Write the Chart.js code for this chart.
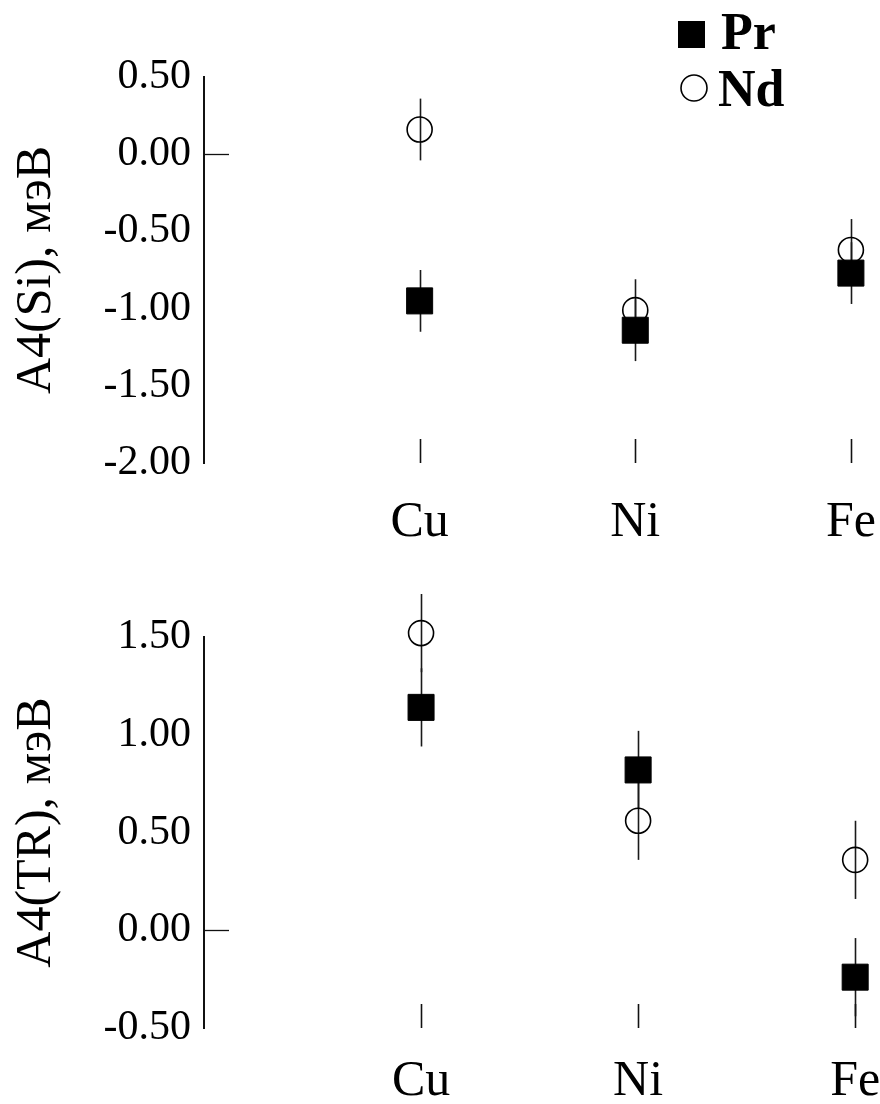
<!DOCTYPE html>
<html>
<head>
<meta charset="utf-8">
<script src="https://cdn.jsdelivr.net/npm/chart.js@4/dist/chart.umd.min.js"></script>
<style>
html,body{margin:0;padding:0;background:#fff;}
body{width:880px;height:1104px;position:relative;overflow:hidden;}
canvas{position:absolute;left:0;}
</style>
</head>
<body>
<canvas id="c1" width="880" height="560" style="top:0px"></canvas>
<canvas id="c2" width="880" height="544" style="top:560px"></canvas>
<script>
// ---- data ----
const categories = ['Cu', 'Ni', 'Fe'];
const seriesNames = ['Pr', 'Nd'];
const prSi = [-0.95, -1.14, -0.77];
const ndSi = [0.16, -1.01, -0.62];
const prSiErr = [0.2, 0.2, 0.2];
const ndSiErr = [0.2, 0.2, 0.2];
const prTR = [1.14, 0.82, -0.24];
const ndTR = [1.52, 0.56, 0.36];
const prTRErr = [0.2, 0.2, 0.2];
const ndTRErr = [0.2, 0.2, 0.2];
const siTicks = [0.5, 0, -0.5, -1, -1.5, -2];
const trTicks = [1.5, 1, 0.5, 0, -0.5];
const siTitle = 'A4(Si), мэВ';
const trTitle = 'A4(TR), мэВ';

const SERIF = "'Liberation Serif', 'DejaVu Serif', serif";

const errorBars = {
  id: 'errorBars',
  beforeDatasetsDraw(chart) {
    const ctx = chart.ctx, xs = chart.scales.x, ys = chart.scales.y;
    ctx.save();
    ctx.strokeStyle = '#1a1a1a';
    ctx.lineWidth = 1.6;
    chart.data.datasets.forEach(ds => {
      ds.data.forEach((p, j) => {
        const e = ds.errors[j];
        const x = Math.round(xs.getPixelForValue(p.x)) + 0.5;
        ctx.beginPath();
        ctx.moveTo(x, ys.getPixelForValue(p.y + e));
        ctx.lineTo(x, ys.getPixelForValue(p.y - e));
        ctx.stroke();
      });
    });
    ctx.restore();
  }
};

const axisMarks = {
  id: 'axisMarks',
  afterDraw(chart) {
    const ctx = chart.ctx, xs = chart.scales.x, ys = chart.scales.y, a = chart.chartArea;
    ctx.save();
    ctx.strokeStyle = '#111';
    ctx.lineWidth = 1.3;
    // zero tick pointing into the plot
    const y0 = Math.round(ys.getPixelForValue(0)) + 0.5;
    ctx.beginPath();
    ctx.moveTo(a.left, y0);
    ctx.lineTo(a.left + 25, y0);
    ctx.stroke();
    // category ticks at the bottom
    ctx.lineWidth = 1.6;
    categories.forEach((c, i) => {
      const x = Math.round(xs.getPixelForValue(i)) + 0.5;
      ctx.beginPath();
      ctx.moveTo(x, a.bottom);
      ctx.lineTo(x, a.bottom - 24);
      ctx.stroke();
    });
    ctx.restore();
  }
};

const sideLegend = {
  id: 'sideLegend',
  afterDraw(chart) {
    const ctx = chart.ctx;
    const ds = chart.data.datasets;
    ctx.save();
    ctx.font = "bold 52px " + SERIF;
    ctx.textBaseline = 'middle';
    ctx.textAlign = 'left';
    ctx.fillStyle = '#000';
    // Pr: filled square
    ctx.fillRect(678, 21, 27, 27);
    ctx.fillText(ds[0].label, 721, 36);
    // Nd: open circle
    ctx.beginPath();
    ctx.lineWidth = 1.6;
    ctx.strokeStyle = '#000';
    ctx.arc(694, 88, 13, 0, Math.PI * 2);
    ctx.stroke();
    ctx.fillText(ds[1].label, 718, 93);
    ctx.restore();
  }
};

function makeChart(id, yTitle, yMin, yMax, yTicks, pr, prErr, nd, ndErr, xMax, xHeight, xPad, withLegend) {
  const plugins = [errorBars, axisMarks];
  if (withLegend) plugins.push(sideLegend);
  return new Chart(document.getElementById(id), {
    type: 'scatter',
    data: {
      datasets: [
        {
          label: seriesNames[0],
          data: pr.map((v, i) => ({ x: i, y: v })),
          errors: prErr,
          clip: false,
          pointStyle: 'rect',
          pointRadius: 18.4,
          pointHoverRadius: 18.4,
          backgroundColor: '#000',
          borderColor: '#000',
          borderWidth: 1
        },
        {
          label: seriesNames[1],
          data: nd.map((v, i) => ({ x: i, y: v })),
          errors: ndErr,
          clip: false,
          pointStyle: 'circle',
          pointRadius: 12.5,
          pointHoverRadius: 12.5,
          backgroundColor: 'rgba(0,0,0,0)',
          borderColor: '#000',
          borderWidth: 1.6
        }
      ]
    },
    options: {
      responsive: false,
      animation: false,
      devicePixelRatio: 1,
      events: [],
      layout: { padding: { top: 77, right: 5, left: 0, bottom: 0 } },
      plugins: { legend: { display: false }, tooltip: { enabled: false } },
      scales: {
        x: {
          type: 'linear',
          bounds: 'data',
          min: -1,
          max: xMax,
          afterBuildTicks: s => { s.ticks = categories.map((c, i) => ({ value: i })); },
          ticks: {
            callback: v => categories[v],
            font: { family: SERIF, size: 50 },
            color: '#000',
            padding: xPad,
            autoSkip: false,
            maxRotation: 0
          },
          grid: { display: false, drawTicks: false },
          border: { display: false },
          afterFit: s => { s.height = xHeight; s.paddingLeft = 0; s.paddingRight = 0; }
        },
        y: {
          bounds: 'data',
          min: yMin,
          max: yMax,
          afterBuildTicks: s => { s.ticks = yTicks.map(v => ({ value: v })); },
          ticks: {
            callback: v => v.toFixed(2),
            font: { family: SERIF, size: 42 },
            color: '#000',
            padding: 13
          },
          grid: { display: false, drawTicks: false },
          border: { display: true, color: '#111', width: 2 },
          title: {
            display: true,
            text: yTitle,
            font: { family: SERIF, size: 50 },
            color: '#000',
            padding: { top: 7, bottom: 0 }
          },
          afterFit: s => { s.width = 204; s.paddingTop = 0; s.paddingBottom = 0; }
        }
      }
    },
    plugins: plugins
  });
}

makeChart('c1', siTitle, -2, 0.5, siTicks, prSi, prSiErr, ndSi, ndSiErr, 2.045, 97, 30, true);
makeChart('c2', trTitle, -0.5, 1.5, trTicks, prTR, prTRErr, ndTR, ndTRErr, 2.025, 76, 24, false);
</script>
</body>
</html>
